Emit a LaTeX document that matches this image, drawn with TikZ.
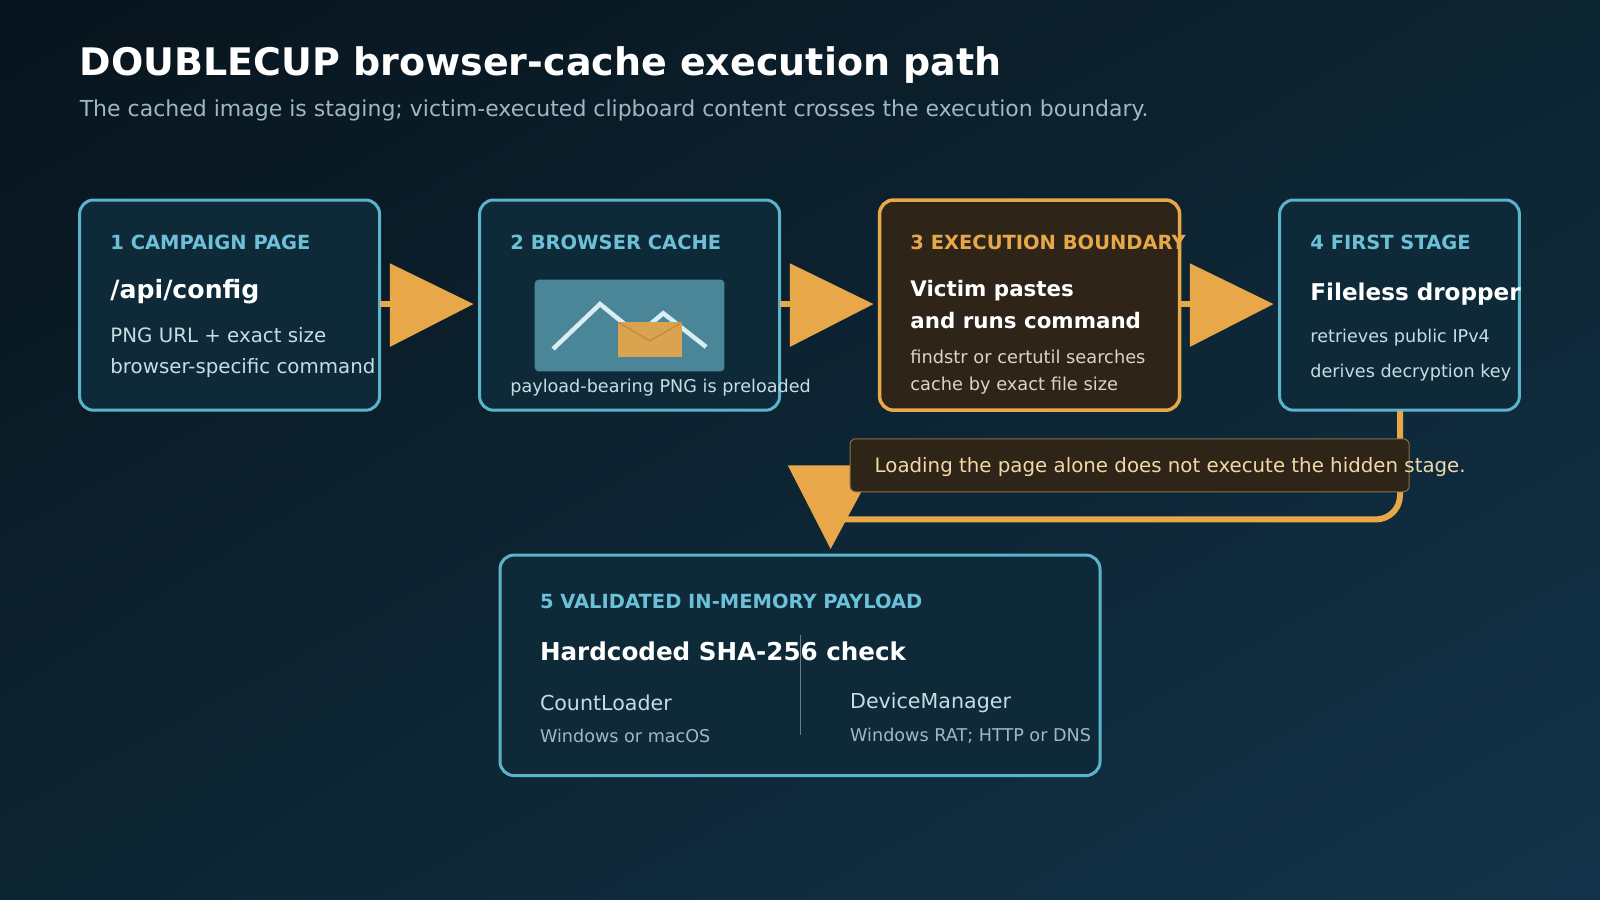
\documentclass[tikz,border=0pt]{standalone}
\usepackage{fontspec}
\usetikzlibrary{shadings}
\setmainfont{DejaVu Sans}
\definecolor{bgA}{HTML}{08141D}
\definecolor{bgB}{HTML}{12334A}
\definecolor{bgM}{HTML}{0D2431}
\definecolor{cyanS}{HTML}{5AB4CC}
\definecolor{cyanT}{HTML}{6CC0D8}
\definecolor{boxF}{HTML}{0E2A38}
\definecolor{org}{HTML}{E8A84A}
\definecolor{brownF}{HTML}{2E2418}
\definecolor{bodyT}{HTML}{C8DCE4}
\definecolor{subT}{HTML}{9FB8C4}
\definecolor{noteS}{HTML}{8A7048}
\definecolor{noteT}{HTML}{F0D8A8}
\definecolor{warmT}{HTML}{E0D4C0}
\definecolor{imgF}{HTML}{4A8598}
\definecolor{envF}{HTML}{D9A350}
\newcommand{\fs}[1]{\fontsize{#1}{#1}\selectfont}
\begin{document}
\begin{tikzpicture}[x=1.0204pt,y=-1.0204pt,
  card/.style={draw=cyanS,line width=3pt,fill=boxF,rounded corners=14pt},
  hot/.style={draw=org,line width=3.5pt,fill=brownF,rounded corners=14pt},
  t/.style={anchor=west,inner sep=0pt},
  lab/.style={t,font=\fs{19.5}\bfseries,text=cyanT},
  head/.style={t,font=\fs{25.2}\bfseries,text=white},
  body/.style={t,font=\fs{19.8},text=bodyT},
  small/.style={t,font=\fs{17.6},text=bodyT},
  tri/.style={fill=org},
  stem/.style={draw=org,line width=6pt}]
\shade[upper left=bgA,lower right=bgB,upper right=bgM,lower left=bgM] (0,0) rectangle (1568,882);
\useasboundingbox (0,0) rectangle (1568,882);
\node[t,font=\fs{38}\bfseries,text=white] (title) at (78,64) {DOUBLECUP browser-cache execution path};
\node[t,font=\fs{22},text=subT] (sub) at (78,108) {The cached image is staging; victim-executed clipboard content crosses the execution boundary.};
% box 1
\draw[card] (78,196) rectangle (372,402);
\node[lab] (l1) at (108,238) {1 CAMPAIGN PAGE};
\node[head] (h1) at (108,286) {/api/config};
\node[body] (b1a) at (108,328) {PNG URL + exact size};
\node[body] (b1b) at (108,361) {browser-specific command};
% arrow 1
\draw[stem] (372,298) -- (384,298);
\fill[tri] (382,258) -- (464,298) -- (382,340) -- cycle;
% box 2
\draw[card] (470,196) rectangle (764,402);
\node[lab] (l2) at (500,238) {2 BROWSER CACHE};
\fill[imgF,rounded corners=4pt] (524,274) rectangle (710,364);
\draw[draw={rgb,255:red,216;green,238;blue,244},line width=4.5pt] (542,342) -- (588,298) -- (625,328) -- (650,307) -- (692,340);
\fill[envF] (606,316) rectangle (668,350);
\draw[draw={rgb,255:red,200;green,140;blue,60},line width=1.5pt] (606,316) -- (637,334) -- (668,316);
\node[small] (c2) at (500,380) {payload-bearing PNG is preloaded};
% arrow 2
\draw[stem] (764,298) -- (776,298);
\fill[tri] (774,258) -- (856,298) -- (774,340) -- cycle;
% box 3
\draw[hot] (862,196) rectangle (1156,402);
\node[lab,text=org] (l3) at (892,238) {3 EXECUTION BOUNDARY};
\node[head,font=\fs{21.4}\bfseries] (h3a) at (892,285) {Victim pastes};
\node[head,font=\fs{21.4}\bfseries] (h3b) at (892,314) {and runs command};
\node[small,font=\fs{17.8},text=warmT] (b3a) at (892,350) {findstr or certutil searches};
\node[small,font=\fs{17.8},text=warmT] (b3b) at (892,378) {cache by exact file size};
% arrow 3
\draw[stem] (1156,298) -- (1168,298);
\fill[tri] (1166,258) -- (1248,298) -- (1166,340) -- cycle;
% box 4
\draw[card] (1254,196) rectangle (1489,402);
\node[lab] (l4) at (1284,238) {4 FIRST STAGE};
\node[head,font=\fs{23.1}\bfseries] (h4) at (1284,288) {Fileless dropper};
\node[small] (b4a) at (1284,331) {retrieves public IPv4};
\node[small] (b4b) at (1284,365) {derives decryption key};
% return connector
\draw[draw=org,line width=6pt,rounded corners=24pt] (1372,403) -- (1372,509) -- (812,509);
\fill[tri] (772,456) -- (858,456) -- (814,538) -- cycle;
% note
\draw[draw=noteS,line width=1pt,fill=brownF,rounded corners=6pt] (833,430) rectangle (1381,482);
\node[t,font=\fs{19.8},text=noteT] (note) at (857,458) {Loading the page alone does not execute the hidden stage.};
% box 5
\draw[card] (490,544) rectangle (1078,760);
\node[lab] (l5) at (529,589) {5 VALIDATED IN-MEMORY PAYLOAD};
\node[head,font=\fs{24.6}\bfseries] (h5) at (529,638) {Hardcoded SHA-256 check};
\draw[draw=subT!60!boxF,line width=1pt] (784,622) -- (784,720);
\node[body,font=\fs{20.6}] (c5a) at (529,689) {CountLoader};
\node[small,text=subT] (c5b) at (529,721) {Windows or macOS};
\node[body,font=\fs{20.6}] (c5c) at (833,689) {DeviceManager};
\node[small,text=subT] (c5d) at (833,721) {Windows RAT; HTTP or DNS};
\end{tikzpicture}
\end{document}
